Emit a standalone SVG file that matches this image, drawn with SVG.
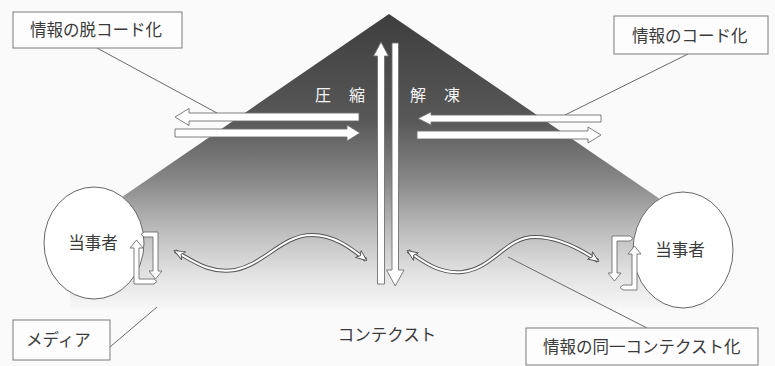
<svg xmlns="http://www.w3.org/2000/svg" width="775" height="366" viewBox="0 0 775 366">
<style>
.lbl{font-family:"Noto Sans CJK JP","Noto Sans",sans-serif;font-size:16.5px;fill:#3a3a3a}
.box{fill:#fdfdfd;stroke:#7a7a7a;stroke-width:1}
.circ{fill:#ffffff;stroke:#666;stroke-width:1}
.arr{fill:#ffffff;stroke:#707070;stroke-width:0.9;stroke-linejoin:miter}
.lead{fill:none;stroke:#6a6a6a;stroke-width:1}
.waveo{fill:none;stroke:#555;stroke-width:4;stroke-linecap:butt}
.wavei{fill:none;stroke:#ffffff;stroke-width:2}
.wh{font-family:"Noto Sans CJK JP","Noto Sans",sans-serif;font-size:16px;fill:#f4f4f4}
</style>
<defs>
<linearGradient id="g" x1="0" y1="14" x2="0" y2="310" gradientUnits="userSpaceOnUse">
<stop offset="0" stop-color="#3e3e3e"/>
<stop offset="0.36" stop-color="#585858"/>
<stop offset="0.56" stop-color="#878787"/>
<stop offset="0.73" stop-color="#bcbcbc"/>
<stop offset="0.87" stop-color="#e0e0e0"/>
<stop offset="1" stop-color="#f8f8f8"/>
</linearGradient>
<marker id="h" viewBox="0 0 12 10" refX="10" refY="5" markerWidth="12" markerHeight="10" markerUnits="userSpaceOnUse" orient="auto-start-reverse">
<path d="M0,0.5 L11,5 L0,9.5 L3,5 Z" fill="#fff" stroke="#555" stroke-width="0.9"/>
</marker>
</defs>
<rect width="775" height="366" fill="#fafafa"/>
<polygon id="context-field" points="389,14 657,197 705,235 705,310 70,310 70,235 122,197" fill="url(#g)"/>

<g id="party-left">
<ellipse class="circ" cx="94" cy="243" rx="50" ry="56"/>
<text class="lbl" x="93" y="249" text-anchor="middle" font-size="16">当事者</text>
</g>
<g id="party-right">
<ellipse class="circ" cx="683" cy="250" rx="50" ry="58"/>
<text class="lbl" x="680" y="256" text-anchor="middle" font-size="16">当事者</text>
</g>

<g id="connectors">
<!-- leader lines -->
<line class="lead" x1="97" y1="48" x2="217" y2="113"/>
<line class="lead" x1="688" y1="54" x2="565" y2="115"/>
<line class="lead" x1="110" y1="347" x2="157" y2="307"/>
<line class="lead" x1="508" y1="257" x2="647" y2="328"/>
<!-- horizontal arrows -->
<path class="arr" d="M175,117 L189,108.5 L189,113 L359,113 L359,121 L189,121 L189,125.5 Z"/>
<path class="arr" d="M175,129 L347,129 L347,125 L360,133 L347,141 L347,137 L175,137 Z"/>
<path class="arr" d="M418,118.5 L431,112 L431,115 L601,115 L601,122 L431,122 L431,125 Z"/>
<path class="arr" d="M417,131 L588,131 L588,127 L601,135 L588,143 L588,139 L417,139 Z"/>
<!-- vertical arrows -->
<path class="arr" d="M381,42 L388.5,56 L384.5,56 L384.5,284 L377.5,284 L377.5,56 L373.5,56 Z"/>
<path class="arr" d="M392,43 L398.5,43 L398.5,270 L404,270 L395.25,286 L386.5,270 L392,270 Z"/>
<!-- wavy double arrows -->
<path class="waveo" d="M175,251 C195,262 210,274 235,270 C265,264 282,235 312,235 C335,235 352,249 366,260"/>
<path class="wavei" marker-start="url(#h)" marker-end="url(#h)" d="M175,251 C195,262 210,274 235,270 C265,264 282,235 312,235 C335,235 352,249 366,260"/>
<path class="waveo" d="M408,251 C425,263 440,274 462,272 C495,268 505,237 535,237 C560,237 582,250 598,261"/>
<path class="wavei" marker-start="url(#h)" marker-end="url(#h)" d="M408,251 C425,263 440,274 462,272 C495,268 505,237 535,237 C560,237 582,250 598,261"/>
<!-- media cycle arrows left -->
<path class="arr" d="M141,234.5 L144,232 L158,232 L158,271 L162,271 L155.5,279 L149,271 L153,271 L153,237 L144,237 Z"/>
<path class="arr" d="M136.5,240 L143,248 L139,248 L139,279 L154,279 L157,281.5 L154,284 L134,284 L134,248 L130,248 Z"/>
<!-- media cycle arrows right -->
<path class="arr" d="M612,236 L630,236 L633,238.5 L630,241 L617,241 L617,273 L621,273 L614.5,281 L608,273 L612,273 Z"/>
<path class="arr" d="M634.5,246 L641,254 L637,254 L637,290 L623,290 L620,287.5 L623,285 L632,285 L632,254 L628,254 Z"/>
</g>

<g id="label-compress">
<text class="wh" x="315" y="101" letter-spacing="18">圧縮</text>
</g>
<g id="label-thaw">
<text class="wh" x="410" y="101" letter-spacing="18">解凍</text>
</g>
<g id="label-context">
<text class="lbl" x="387" y="341" text-anchor="middle">コンテクスト</text>
</g>
<g id="label-decode">
<rect class="box" x="13" y="12" width="169" height="36"/>
<text class="lbl" x="30" y="36">情報の脱コード化</text>
</g>
<g id="label-encode">
<rect class="box" x="614" y="16" width="154" height="38"/>
<text class="lbl" x="632" y="42">情報のコード化</text>
</g>
<g id="label-media">
<rect class="box" x="13" y="320" width="97" height="40"/>
<text class="lbl" x="26" y="346">メディア</text>
</g>
<g id="label-same-context">
<rect class="box" x="526" y="328" width="232" height="37"/>
<text class="lbl" x="543" y="353">情報の同一コンテクスト化</text>
</g>
</svg>
